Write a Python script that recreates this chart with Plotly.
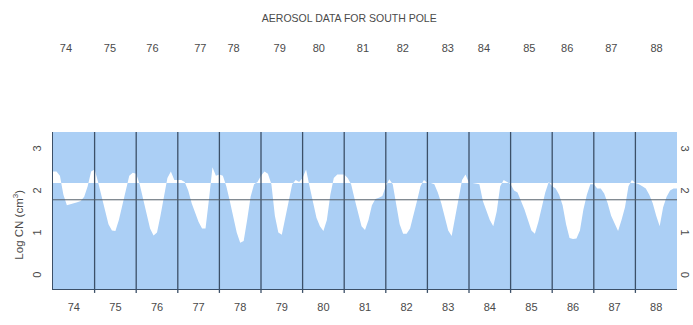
import plotly.graph_objects as go

# Monthly log10 condensation-nucleus concentration at South Pole, one row per year
years = list(range(1974, 1989))
log_cn = [
    [2.45, 2.45, 2.35, 1.90, 1.65, 1.68, 1.70, 1.72, 1.75, 1.85, 2.10, 2.45],  # 1974
    [2.50, 2.20, 1.85, 1.50, 1.20, 1.05, 1.04, 1.30, 1.65, 2.00, 2.35, 2.42],  # 1975
    [2.40, 2.15, 1.80, 1.45, 1.10, 0.93, 1.00, 1.40, 1.90, 2.30, 2.45, 2.25],  # 1976
    [2.25, 2.25, 2.20, 2.00, 1.70, 1.45, 1.25, 1.10, 1.10, 1.80, 2.55, 2.35],  # 1977
    [2.38, 2.35, 2.10, 1.75, 1.35, 1.00, 0.76, 0.80, 1.30, 1.85, 2.15, 2.20],  # 1978
    [2.35, 2.45, 2.40, 2.15, 1.40, 1.00, 0.95, 1.35, 1.75, 2.15, 2.25, 2.20],  # 1979
    [2.30, 2.50, 2.10, 1.70, 1.35, 1.15, 1.04, 1.30, 1.90, 2.30, 2.38, 2.38],  # 1980
    [2.38, 2.30, 2.15, 1.80, 1.45, 1.15, 1.06, 1.30, 1.65, 1.80, 1.83, 1.87],  # 1981
    [2.10, 2.27, 2.15, 1.70, 1.20, 0.97, 0.97, 1.10, 1.40, 1.75, 2.10, 2.25],  # 1982
    [2.18, 2.18, 2.15, 1.95, 1.70, 1.35, 1.05, 0.92, 1.35, 1.85, 2.25, 2.38],  # 1983
    [2.18, 2.18, 2.17, 2.15, 1.75, 1.50, 1.30, 1.15, 1.50, 2.10, 2.25, 2.20],  # 1984
    [2.15, 2.00, 1.95, 1.75, 1.55, 1.30, 1.05, 0.97, 1.25, 1.60, 1.95, 2.20],  # 1985
    [2.10, 2.05, 1.90, 1.65, 1.20, 0.87, 0.85, 0.86, 1.05, 1.55, 1.90, 2.15],  # 1986
    [2.15, 2.05, 2.05, 1.93, 1.70, 1.40, 1.20, 1.04, 1.30, 1.60, 2.10, 2.25],  # 1987
    [2.18, 2.15, 2.10, 2.05, 1.90, 1.70, 1.40, 1.15, 1.60, 1.85, 2.00, 2.05],  # 1988
]
final_value = 2.05          # value at the start of 1989
median_level = 2.18         # level the anomaly fill is drawn from
reference_level = 1.78      # thin horizontal reference line

bottom_labels = [str(y % 100) for y in years]
top_label_years = [74.31, 75.37, 76.39, 77.54, 78.34, 79.45, 80.39, 81.45,
                   82.41, 83.49, 84.36, 85.45, 86.36, 87.42, 88.51]
y_ticks = [0, 1, 2, 3]

BLUE = "#abcff5"
LINE = "#3c5068"
TEXT = "#4a4a4a"
FONT = "Liberation Sans"

# flatten into a monthly time axis (decimal years)
t, v = [], []
for yr, row in zip(years, log_cn):
    for k, val in enumerate(row):
        t.append(yr + k / 12)
        v.append(val)
t.append(years[-1] + 1)
v.append(final_value)

fig = go.Figure()
fig.add_trace(go.Scatter(x=t, y=[median_level] * len(t), mode="lines",
                         line=dict(width=0), hoverinfo="skip", showlegend=False))
fig.add_trace(go.Scatter(x=t, y=v, mode="lines", line=dict(width=0, color="white"),
                         fill="tonexty", fillcolor="white", showlegend=False))
# carrier for the top year axis
fig.add_trace(go.Scatter(x=[t[0], t[-1]], y=[median_level] * 2, mode="lines",
                         line=dict(width=0), xaxis="x2", yaxis="y",
                         hoverinfo="skip", showlegend=False))

shapes = [dict(type="line", xref="x", yref="paper", x0=yr, x1=yr, y0=-0.025, y1=1,
               line=dict(color=LINE, width=1.3)) for yr in years[1:]]
shapes.append(dict(type="line", xref="paper", yref="y", x0=0, x1=1,
                   y0=reference_level, y1=reference_level,
                   line=dict(color="#55606a", width=1)))

# rotated value labels on both sides of the panel
annotations = []
for val in y_ticks:
    annotations.append(dict(text=str(val), xref="paper", yref="y", x=-16 / 624, y=val,
                            xanchor="center", yanchor="middle", textangle=-90,
                            showarrow=False, font=dict(size=11, color=TEXT)))
    annotations.append(dict(text=str(val), xref="paper", yref="y", x=1 + 8 / 624, y=val,
                            xanchor="center", yanchor="middle", textangle=90,
                            showarrow=False, font=dict(size=11, color=TEXT)))
annotations.append(dict(text="Log CN (cm<sup>3</sup>)", xref="paper", yref="paper",
                        x=-35 / 624, y=0.41, xanchor="center", yanchor="middle",
                        textangle=-90, showarrow=False, font=dict(size=11.5, color=TEXT)))

yr_range = [years[0], years[-1] + 1]
y_range = [-0.34, 3.39]

fig.update_layout(
    width=693, height=325,
    margin=dict(l=53, r=16, t=132, b=27),
    paper_bgcolor="white", plot_bgcolor=BLUE,
    font=dict(family=FONT, size=11, color=TEXT),
    title=dict(text="AEROSOL DATA FOR SOUTH POLE", x=0.504, xref="container",
               y=1 - 18 / 325, yref="container", xanchor="center", yanchor="middle",
               font=dict(size=10.5, color=TEXT)),
    xaxis=dict(range=yr_range, tickvals=[y + 0.5 for y in years], ticktext=bottom_labels,
               showgrid=False, zeroline=False, showline=True, linecolor=LINE, linewidth=1,
               ticks="", ticklabelstandoff=8, tickfont=dict(size=11, color=TEXT)),
    xaxis2=dict(range=yr_range, overlaying="x", side="top",
                tickvals=[1900 + p for p in top_label_years],
                ticktext=bottom_labels, showgrid=False, zeroline=False, showline=False,
                ticks="", ticklabelstandoff=77, tickfont=dict(size=11, color=TEXT)),
    yaxis=dict(range=y_range, showticklabels=False, showgrid=False,
               zeroline=False, showline=True, linecolor=LINE, linewidth=1.3, ticks=""),
    shapes=shapes,
    annotations=annotations,
)

fig.write_html("out.html")
